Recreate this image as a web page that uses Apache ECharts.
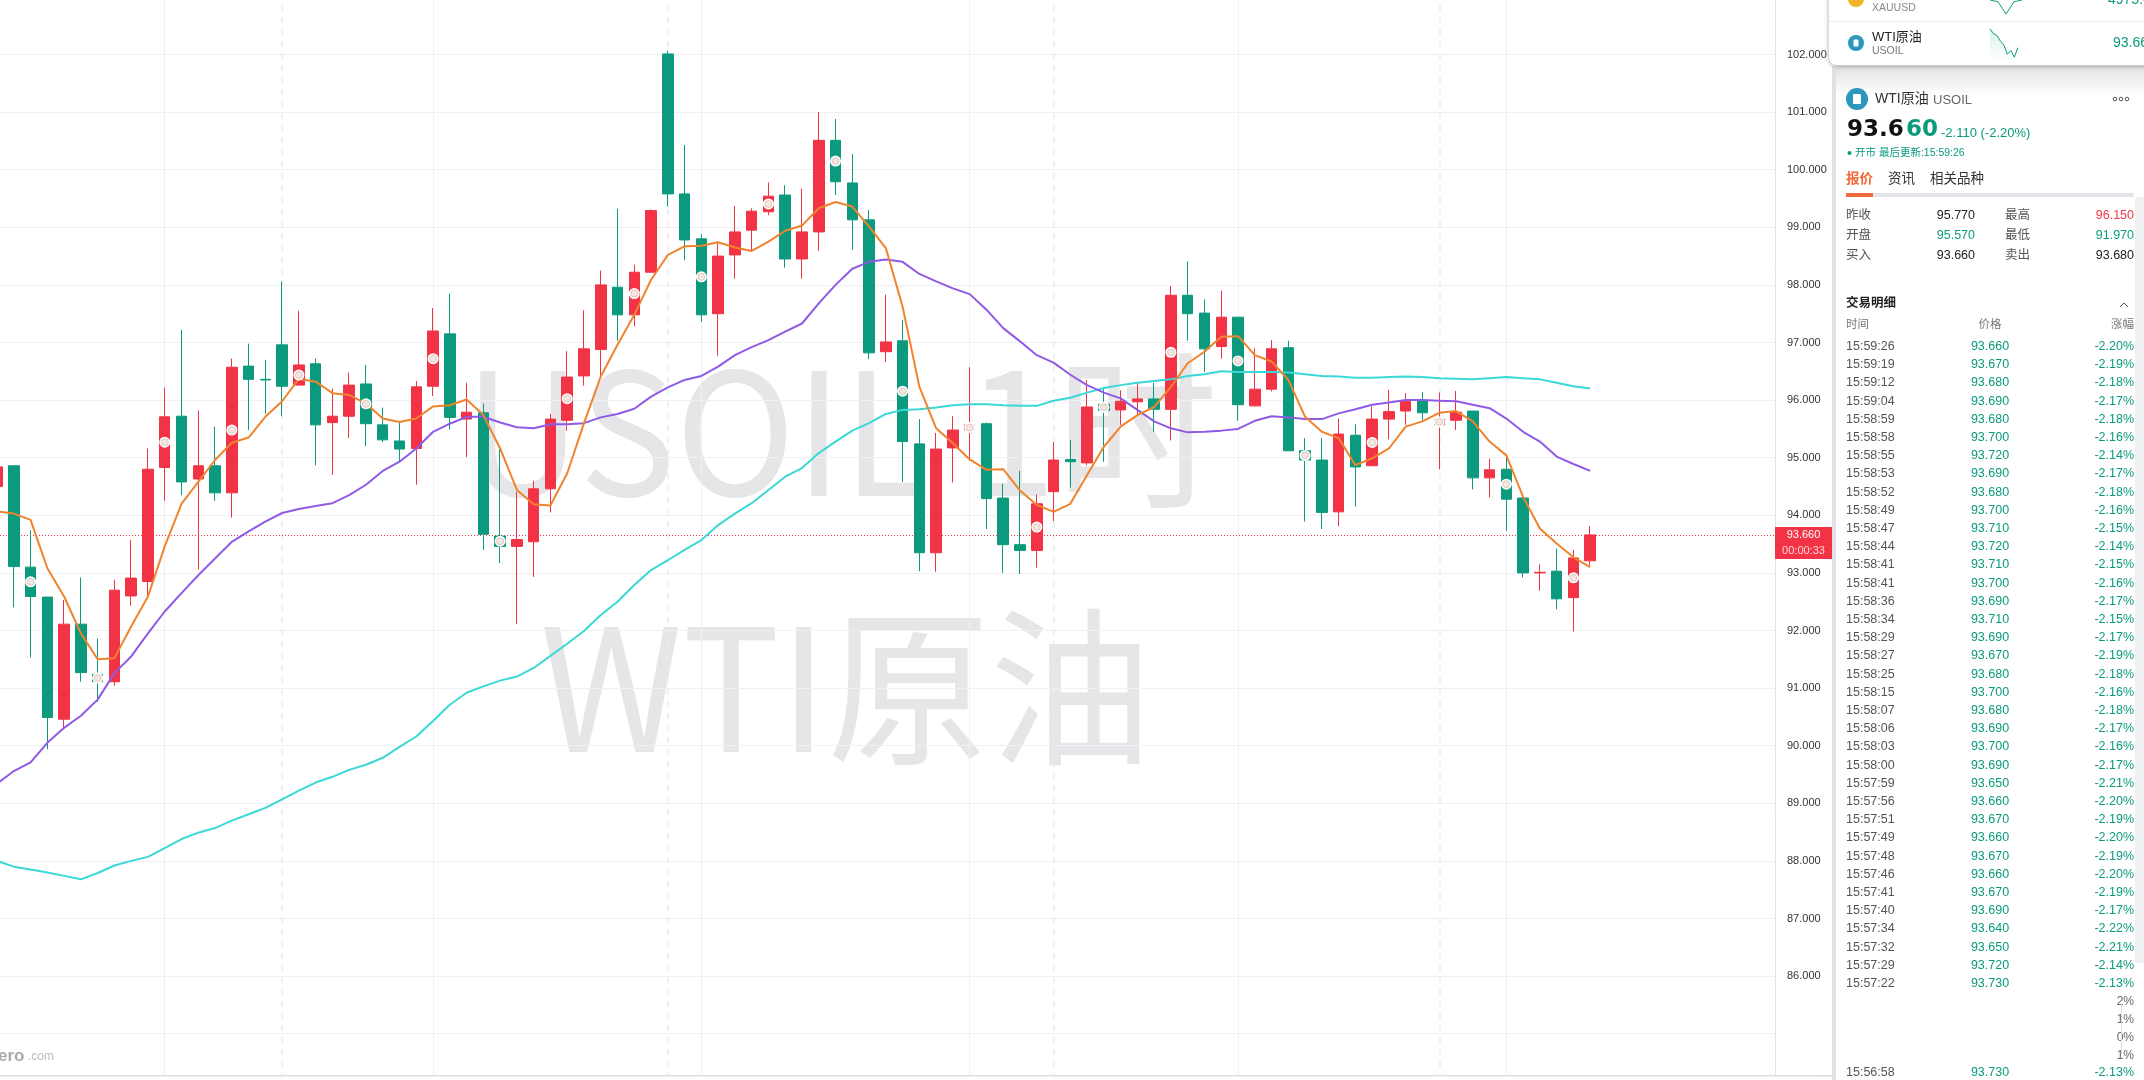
<!DOCTYPE html>
<html><head><meta charset="utf-8">
<style>html,body{margin:0;padding:0;background:#fff;overflow:hidden}#c{width:2144px;height:1080px}</style>
<script src="https://cdn.jsdelivr.net/npm/echarts@6/dist/echarts.min.js"></script>
</head><body><div id="c"></div>
<script>
// first entry is the candle cut by the left edge of the picture
const firstIndex = -1;
const opens = [94.50,94.86,93.10,92.58,90.46,92.11,91.24,91.11,92.60,92.85,94.83,95.72,94.63,94.86,94.39,96.59,96.36,96.96,96.26,96.63,95.61,95.72,96.28,95.57,95.29,95.16,96.24,97.15,95.67,95.78,93.64,93.46,93.54,94.46,95.65,96.42,96.88,97.96,97.48,98.22,102.01,99.58,98.80,97.50,98.52,98.95,99.27,99.56,98.45,98.92,100.51,99.77,99.13,96.84,97.03,95.24,93.35,95.17,95.48,95.59,94.30,93.49,93.39,94.41,94.97,94.91,95.93,95.83,95.97,96.02,95.84,97.82,97.51,96.93,97.44,95.90,96.19,96.91,95.12,94.96,94.06,95.39,94.86,95.67,95.81,95.99,95.57,95.65,95.81,94.65,94.80,94.30,93.00,93.03,92.57,93.21];
const closes = [94.84,93.11,92.59,90.49,92.11,91.27,91.11,92.70,92.91,94.80,95.71,94.58,94.86,94.39,96.57,96.36,96.35,96.24,96.61,95.57,95.72,96.26,95.59,95.31,95.15,96.23,97.20,95.70,95.79,93.67,93.46,93.58,94.46,95.67,96.40,96.89,98.00,97.48,98.22,99.29,99.58,98.78,97.48,98.50,98.92,99.28,99.54,98.45,98.92,100.51,99.79,99.13,96.82,97.01,95.28,93.35,95.15,95.48,95.57,94.29,93.49,93.39,94.20,94.96,94.93,95.88,95.82,95.98,96.02,95.84,97.82,97.50,96.89,97.44,95.92,96.19,96.89,95.12,94.96,94.05,95.41,94.84,95.67,95.80,95.98,95.78,95.67,95.79,94.65,94.79,94.28,93.00,93.01,92.55,93.26,93.66];
const lows = [94.30,92.40,91.53,89.94,90.28,91.11,90.76,91.04,92.43,92.59,94.25,94.35,93.06,94.25,93.96,95.48,95.76,95.72,96.26,94.87,94.70,95.34,95.20,95.27,94.93,94.53,96.07,95.49,95.01,93.40,93.17,92.11,92.93,94.05,95.47,96.25,96.41,97.03,97.28,98.22,99.36,98.43,97.36,96.77,98.11,98.58,99.21,98.30,98.11,98.59,99.56,98.61,96.71,96.66,94.58,93.03,93.02,94.57,94.95,93.76,93.00,92.98,93.09,93.90,94.48,94.87,94.93,95.57,95.74,95.45,95.30,97.03,96.49,96.72,95.64,95.89,96.15,95.12,93.89,93.76,93.81,94.15,94.86,95.32,95.57,95.64,94.80,95.48,94.45,94.31,93.73,92.92,92.69,92.37,91.98,93.13];
const highs = [94.95,94.86,93.74,92.58,92.53,92.92,91.86,92.88,93.57,95.16,96.22,97.22,95.82,95.54,96.72,96.98,96.70,98.06,97.55,96.72,96.20,96.48,96.61,95.87,95.63,96.33,97.60,97.85,96.30,95.94,95.20,94.41,94.60,95.76,96.85,97.56,98.25,99.32,98.35,99.31,102.07,100.43,98.88,98.75,99.37,99.33,99.78,99.73,99.67,101.00,100.88,100.27,99.30,97.83,97.39,95.67,95.43,95.72,96.57,95.61,94.55,94.77,94.36,95.27,95.31,96.35,96.19,96.17,96.30,96.30,97.98,98.41,97.75,97.90,97.44,96.90,97.04,97.03,95.34,95.34,95.68,95.58,95.89,96.18,96.12,96.14,96.13,96.16,95.81,94.98,95.02,94.38,93.15,93.42,93.40,93.81];
const maShort = [94.07,94.03,93.92,93.08,92.59,91.95,91.50,91.52,92.07,92.59,93.46,94.20,94.58,94.96,95.26,95.35,95.71,95.98,96.37,96.32,96.12,96.09,95.94,95.68,95.62,95.68,95.89,95.91,96.01,95.74,95.16,94.44,94.19,94.17,94.73,95.60,96.41,96.96,97.48,98.09,98.52,98.67,98.68,98.74,98.65,98.59,98.75,98.94,99.03,99.33,99.44,99.36,99.01,98.64,97.62,96.23,95.51,95.25,94.97,94.79,94.80,94.43,94.18,94.06,94.20,94.70,95.19,95.54,95.74,95.88,96.23,96.64,96.84,97.10,97.11,96.78,96.67,96.35,95.71,95.45,95.34,94.87,94.99,95.16,95.54,95.63,95.78,95.81,95.63,95.28,95.04,94.32,93.77,93.51,93.27,93.10];
const maMid = [89.34,89.56,89.71,90.05,90.31,90.52,90.80,91.26,91.55,91.95,92.33,92.65,92.96,93.25,93.54,93.72,93.89,94.04,94.11,94.16,94.21,94.35,94.53,94.77,94.93,95.16,95.45,95.59,95.71,95.71,95.61,95.53,95.51,95.58,95.58,95.60,95.70,95.76,95.85,96.06,96.22,96.35,96.42,96.58,96.78,96.92,97.04,97.19,97.33,97.68,98.00,98.28,98.40,98.44,98.40,98.19,98.06,97.94,97.84,97.57,97.25,97.02,96.78,96.65,96.44,96.26,96.13,96.03,95.83,95.63,95.51,95.44,95.45,95.47,95.50,95.64,95.72,95.70,95.67,95.67,95.77,95.84,95.92,95.96,96.00,96.00,95.99,95.98,95.92,95.86,95.68,95.45,95.28,95.02,94.89,94.77];
const maLong = [88.00,87.90,87.85,87.80,87.74,87.68,87.79,87.92,88.00,88.07,88.22,88.38,88.49,88.57,88.70,88.81,88.92,89.07,89.22,89.36,89.46,89.58,89.67,89.79,89.98,90.16,90.43,90.71,90.92,91.03,91.13,91.20,91.35,91.56,91.77,91.99,92.27,92.50,92.79,93.05,93.22,93.40,93.57,93.83,94.03,94.21,94.44,94.67,94.82,95.08,95.28,95.47,95.60,95.76,95.83,95.84,95.87,95.91,95.93,95.93,95.91,95.90,95.90,95.99,96.04,96.13,96.21,96.26,96.30,96.33,96.36,96.42,96.45,96.50,96.49,96.49,96.49,96.48,96.45,96.42,96.41,96.39,96.39,96.40,96.41,96.40,96.38,96.37,96.36,96.38,96.40,96.38,96.36,96.30,96.24,96.20];
const markerCandles = [1,5,9,13,17,21,25,29,33,37,41,45,49,53,57,61,65,69,73,77,81,85,89,93];
const solidGridCandles = [9,25,41,57,73,89];
const dashedGridCandles = [16,39,62,85];
const lastPrice = 93.66;
const countdown = '00:00:33';
const tickMin = 84, tickMax = 103, tickLabelMin = 86, tickLabelMax = 102;
const sparkWti = [58,53,51,45,41,31,35,28,38];
const sparkWtiBase = 56;
const sparkXau = [40,35,0,35,40];

const quoteRows = [
  ['昨收','95.770','#222','最高','96.150','#f23645'],
  ['开盘','95.570','#0d9b7f','最低','91.970','#0d9b7f'],
  ['买入','93.660','#222','卖出','93.680','#222']
];
const tradeTimes = ['15:59:26','15:59:19','15:59:12','15:59:04','15:58:59','15:58:58','15:58:55','15:58:53','15:58:52','15:58:49','15:58:47','15:58:44','15:58:41','15:58:41','15:58:36','15:58:34','15:58:29','15:58:27','15:58:25','15:58:15','15:58:07','15:58:06','15:58:03','15:58:00','15:57:59','15:57:56','15:57:51','15:57:49','15:57:48','15:57:46','15:57:41','15:57:40','15:57:34','15:57:32','15:57:29','15:57:22'];
const tradePrices = ['93.660','93.670','93.680','93.690','93.680','93.700','93.720','93.690','93.680','93.700','93.710','93.720','93.710','93.700','93.690','93.710','93.690','93.670','93.680','93.700','93.680','93.690','93.700','93.690','93.650','93.660','93.670','93.660','93.670','93.660','93.670','93.690','93.640','93.650','93.720','93.730'];
const tradeChanges = ['-2.20%','-2.19%','-2.18%','-2.17%','-2.18%','-2.16%','-2.14%','-2.17%','-2.18%','-2.16%','-2.15%','-2.14%','-2.15%','-2.16%','-2.17%','-2.15%','-2.17%','-2.19%','-2.18%','-2.16%','-2.18%','-2.17%','-2.16%','-2.17%','-2.21%','-2.20%','-2.19%','-2.20%','-2.19%','-2.20%','-2.19%','-2.17%','-2.22%','-2.21%','-2.14%','-2.13%'];
const lastTrade = ['15:56:58','93.730','-2.13%'];
const ghostTicks = ['2%','1%','0%','1%'];

const RED='#f23345', GREEN='#0b9a7d', SANS='"Liberation Sans","Noto Sans CJK SC",sans-serif', TXT='#555';
const chart = echarts.init(document.getElementById('c'));
const idx = a => a.map((v,k)=>[k+firstIndex,v]);
const candleData = opens.map((o,k)=>[k+firstIndex,o,closes[k],lows[k],highs[k]]);
const markerData = markerCandles.map(i=>[i,(opens[i-firstIndex]+closes[i-firstIndex])/2]);

const g = [];
const T = (text,x,y,fill,size,opt={}) => g.push({type:'text',z:opt.z||100,silent:true,
  style:{text,x,y,fill,font:(opt.bold?'bold ':'')+size+'px '+(opt.family||SANS),align:opt.align||'left',verticalAlign:'middle',textAlign:opt.align||'left',textVerticalAlign:'middle'}});
const R = (x,y,w,h,fill,opt={}) => g.push({type:'rect',z:opt.z||90,silent:true,shape:{x,y,width:w,height:h,r:opt.r||0},style:Object.assign({fill},opt.style||{})});
const C = (cx,cy,r,fill,opt={}) => g.push({type:'circle',z:opt.z||100,silent:true,shape:{cx,cy,r},style:{fill,stroke:opt.stroke,lineWidth:opt.lw||1}});

// watermark
g.push({type:'text',z:-1,silent:true,x:841,y:431,scaleX:.95,style:{text:'USOIL 1时',x:0,y:0,fill:'#e6e6e8',font:'170px "Noto Sans CJK SC"',align:'center',verticalAlign:'middle',textAlign:'center',textVerticalAlign:'middle'}});
g.push({type:'text',z:-1,silent:true,x:846,y:687,scaleX:.955,style:{text:'WTI原油',x:0,y:0,fill:'#e6e6e8',font:'170px "Noto Sans CJK SC"',align:'center',verticalAlign:'middle',textAlign:'center',textVerticalAlign:'middle'}});
// logo and chart frame bottom
T('ero',-2,1056,'#aaaaaa',17,{bold:true,z:5});
T('.com',28,1057,'#bbbbbb',12,{z:5});
R(0,1076,1832,6,'#ffffff',{z:6});
R(0,1075,1832,1.5,'#dcdee2',{z:7});
// price tag
R(1775,527,57,32,RED,{z:20});
T(lastPrice.toFixed(3),1803.5,535,'#fff',11,{align:'center',z:21});
T(countdown,1803.5,551,'#ffd5d8',11,{align:'center',z:21});
// panel
R(1832,60,312,1020,'#ffffff',{z:80});
R(1832,66,4,1014,'#dfe1e6',{z:81});
R(1836,66,308,30,'#fff',{z:81,style:{fill:new echarts.graphic.LinearGradient(0,0,0,1,[{offset:0,color:'#e1e2e5'},{offset:1,color:'#ffffff'}])}});
R(1829,-10,320,75,'#ffffff',{z:84,r:[0,0,0,8],style:{shadowColor:'rgba(0,0,0,.35)',shadowBlur:5,shadowOffsetY:1}});
R(1829,21,315,1,'#eceef0',{z:85});
C(1856,-1,8,'#f0b429');
T('XAUUSD',1872,8,'#888',10.5);
T('4975.0',2108,0,GREEN,14);
C(1856,43,8,'#2a97bb');
R(1853.5,39.5,5,7,'#fff',{z:101,r:1});
T('WTI原油',1872,37,'#222',13);
T('USOIL',1872,51,'#777',10.5);
T('93.66',2113,43,GREEN,14);
C(1857,99,11,'#2a97bb');
R(1853,94,8,10,'#fff',{z:101,r:1});
T('WTI原油',1875,99,'#333',14);
T('USOIL',1933,100,'#666',13);
[2115,2121,2127].forEach(x=>C(x,99,1.8,'#fff',{stroke:'#555'}));
T('93.6',1847,130,'#111',23,{bold:true,family:'"DejaVu Sans"'});
T('60',1906,130,GREEN,23,{bold:true,family:'"DejaVu Sans"'});
T('-2.110 (-2.20%)',1941,133,GREEN,13);
C(1849.5,153,2,GREEN);
T('开市 最后更新:15:59:26',1855,153,GREEN,10.5);
T('报价',1846,179,'#f0683a',13.5,{bold:true});
T('资讯',1888,179,'#333',13.5);
T('相关品种',1930,179,'#333',13.5);
R(1846,193,288,4,'#e3e5ea',{r:1,z:100});
R(1846,193,27,4,'#f26b3d',{z:101});
R(2135,197,9,766,'#eef0f2',{z:90,r:3});
quoteRows.forEach((r,k)=>{const y=216+k*20;
  T(r[0],1846,y,TXT,12.5); T(r[1],1975,y,r[2],12.5,{align:'right'});
  T(r[3],2005,y,TXT,12.5); T(r[4],2134,y,r[5],12.5,{align:'right'});});
T('交易明细',1846,304,'#222',12.5,{bold:true});
g.push({type:'polyline',z:100,silent:true,shape:{points:[[2120,307],[2124,303],[2128,307]]},style:{stroke:'#555',fill:null,lineWidth:1}});
T('时间',1846,325,'#777',11.5); T('价格',1990,325,'#777',11.5,{align:'center'}); T('涨幅',2134,325,'#777',11.5,{align:'right'});
tradeTimes.forEach((t,k)=>{const y=346.5+k*18.2;
  T(t,1846,y,TXT,12.5); T(tradePrices[k],1990,y,GREEN,12.5,{align:'center'}); T(tradeChanges[k],2134,y,GREEN,12.5,{align:'right'});});
ghostTicks.forEach((t,k)=>T(t,2134,1002+k*18,'#666',12,{align:'right'}));
R(2121,1004,1,50,'#ddd',{z:100});
T(lastTrade[0],1846,1073,TXT,12.5); T(lastTrade[1],1990,1073,GREEN,12.5,{align:'center'}); T(lastTrade[2],2134,1073,GREEN,12.5,{align:'right'});
R(1820,1075,12,1,'#d8dade',{z:81});

const NOBOUNDS = {outerBoundsMode:'none',containLabel:false};
const option = {
  animation:false, backgroundColor:'#fff',
  grid:[
    {left:0,top:-3.1,width:1775,height:1094.4,...NOBOUNDS},
    {left:1990,top:27,width:73,height:33,z:120,...NOBOUNDS},
    {left:1990,top:0,width:32,height:14,z:120,...NOBOUNDS}
  ],
  xAxis:[
    {type:'value',show:false,min:-0.823,max:105.02,gridIndex:0},
    {type:'category',gridIndex:1,show:false,boundaryGap:false,data:Array.from({length:22},(_, k)=>k),z:120},
    {type:'category',gridIndex:2,show:false,boundaryGap:false,data:sparkXau.map((_, k)=>k),z:120}
  ],
  yAxis:[
    {type:'value',gridIndex:0,position:'right',min:tickMin,max:tickMax,interval:1,
     axisLine:{show:true,onZero:false,lineStyle:{color:'#e0e3e8',width:1}},axisTick:{show:false},
     splitLine:{show:true,lineStyle:{color:'#eff0f3',width:1}},
     axisLabel:{margin:12,color:'#333',fontSize:11,fontFamily:'"Liberation Sans"',
       formatter:v=>(v>=tickLabelMin&&v<=tickLabelMax)?v.toFixed(3):''}},
    {type:'value',gridIndex:1,show:false,min:25,max:60},
    {type:'value',gridIndex:2,show:false,min:0,max:40}
  ],
  series:[
    {type:'line',name:'guides',xAxisIndex:0,yAxisIndex:0,data:[],z:1,
     markLine:{silent:true,symbol:'none',z:1,label:{show:false},animation:false,data:[
       ...solidGridCandles.map(i=>({xAxis:i,lineStyle:{color:'#eff0f3',width:1,type:'solid'}})),
       ...dashedGridCandles.map(i=>({xAxis:i,lineStyle:{color:'#e9ebee',width:1.5,type:[6,6]}})),
       {yAxis:lastPrice,lineStyle:{color:RED,width:1,type:[1,2]}}
     ]}},
    {type:'candlestick',name:'USOIL',xAxisIndex:0,yAxisIndex:0,data:candleData,barWidth:11,z:3,
     encode:{x:0,y:[1,2,3,4]},
     itemStyle:{color:RED,color0:GREEN,borderColor:RED,borderColor0:GREEN,borderWidth:1}},
    {type:'line',name:'long',xAxisIndex:0,yAxisIndex:0,data:idx(maLong),showSymbol:false,z:4,lineStyle:{color:'#3ad8d6',width:2}},
    {type:'line',name:'mid',xAxisIndex:0,yAxisIndex:0,data:idx(maMid),showSymbol:false,z:4,lineStyle:{color:'#8e5ae6',width:2}},
    {type:'line',name:'short',xAxisIndex:0,yAxisIndex:0,data:idx(maShort),showSymbol:false,z:4,lineStyle:{color:'#f0842c',width:2}},
    {type:'scatter',name:'markers',xAxisIndex:0,yAxisIndex:0,data:markerData,symbolSize:11,z:5,
     itemStyle:{color:'#ffffff',opacity:1}},
    {type:'scatter',name:'markerCores',xAxisIndex:0,yAxisIndex:0,data:markerData,symbolSize:7,z:6,
     itemStyle:{color:'#f3e7e2',borderColor:'#d9a8a4',borderWidth:.6,opacity:1}},
    {type:'line',name:'spark',xAxisIndex:1,yAxisIndex:1,data:sparkWti,showSymbol:false,z:120,zlevel:1,
     lineStyle:{color:GREEN,width:1},
     areaStyle:{color:new echarts.graphic.LinearGradient(0,0,0,1,[{offset:0,color:'rgba(11,154,125,.22)'},{offset:1,color:'rgba(11,154,125,0)'}])},
     markLine:{silent:true,symbol:'none',label:{show:false},data:[{yAxis:sparkWtiBase,lineStyle:{color:'#bbb',width:1,type:[4,4]}}]}},
    {type:'line',name:'sparkXau',xAxisIndex:2,yAxisIndex:2,data:sparkXau,showSymbol:false,z:120,zlevel:1,lineStyle:{color:GREEN,width:1}}
  ],
  graphic:g
};
chart.setOption(option);
</script></body></html>
